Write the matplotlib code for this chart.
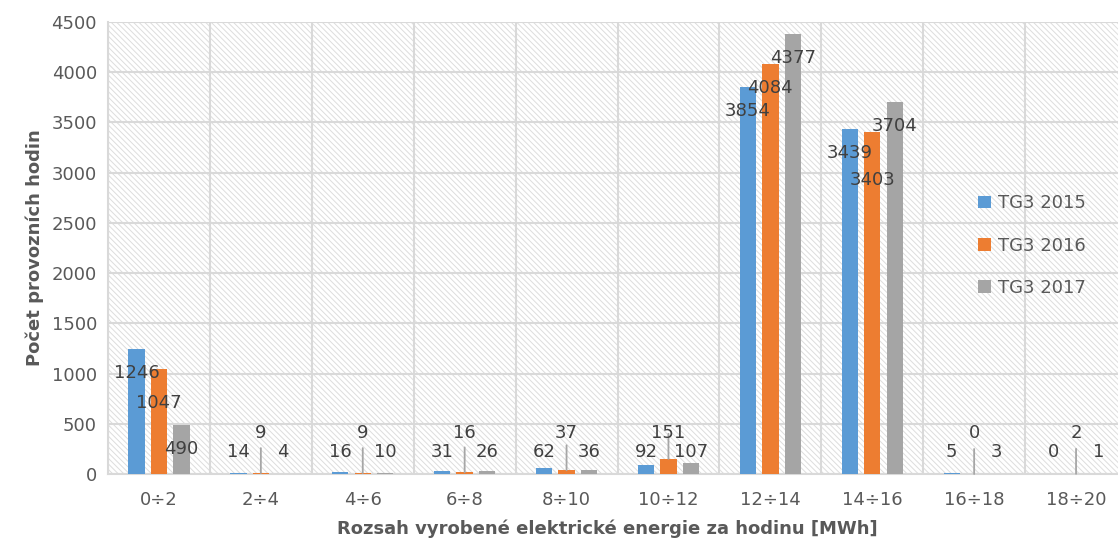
import numpy as np
import matplotlib.pyplot as plt
from matplotlib.patches import Rectangle

# Operating hours of TG3 by hourly energy output range
categories = ['0÷2', '2÷4', '4÷6', '6÷8', '8÷10', '10÷12', '12÷14', '14÷16', '16÷18', '18÷20']
tg3_2015 = [1246, 14, 16, 31, 62, 92, 3854, 3439, 5, 0]
tg3_2016 = [1047, 9, 9, 16, 37, 151, 4084, 3403, 0, 2]
tg3_2017 = [490, 4, 10, 26, 36, 107, 4377, 3704, 3, 1]
series_names = ['TG3 2015', 'TG3 2016', 'TG3 2017']

colors = ['#5B9BD5', '#ED7D31', '#A5A5A5']
text_color = '#595959'
label_color = '#404040'
grid_color = '#D9D9D9'

plt.rcParams['font.family'] = ['DejaVu Sans']
plt.rcParams['hatch.linewidth'] = 0.7

fig = plt.figure(figsize=(11.18, 5.38), dpi=100)
ax = fig.add_axes([108 / 1118, 1 - 474 / 538, 1019 / 1118, 452 / 538])

x = np.arange(len(categories))
width = 0.16
shift = 0.22
series = [tg3_2015, tg3_2016, tg3_2017]

# hatched background like the Excel plot area pattern
ax.add_patch(Rectangle((0, 0), 1, 1, transform=ax.transAxes, facecolor='white',
                       edgecolor='#DDDDDD', hatch='\\' * 6, linewidth=0, zorder=0))

for i, (vals, c, name) in enumerate(zip(series, colors, series_names)):
    ax.bar(x + (i - 1) * shift, vals, width, color=c, label=name, zorder=3)

# data labels: inside the top of tall bars, above the baseline for short ones
extra_drop = {(0, 1): 10, (7, 1): 24}
for i, vals in enumerate(series):
    for j, v in enumerate(vals):
        xc = x[j] + (i - 1) * shift
        if v > 300:
            dy = -24 - extra_drop.get((j, i), 0)
            ax.annotate(str(v), (xc, v), xytext=(0, dy), textcoords='offset pixels',
                        ha='center', va='center', fontsize=13, color=label_color, zorder=5)
        elif i == 1:
            # middle label lifted higher, with a leader line down to the bar
            ax.annotate(str(v), (xc, 0), xytext=(0, 41), textcoords='offset pixels',
                        ha='center', va='center', fontsize=13, color=label_color, zorder=5)
            ax.annotate('', (xc, v), xytext=(0, 25), textcoords='offset pixels',
                        arrowprops=dict(arrowstyle='-', color='#A6A6A6', lw=1.3,
                                        shrinkA=0, shrinkB=0), zorder=4)
        else:
            ax.annotate(str(v), (xc, 0), xytext=(0, 22), textcoords='offset pixels',
                        ha='center', va='center', fontsize=13, color=label_color, zorder=5)

ax.set_xlim(-0.5, len(categories) - 0.5)
ax.set_ylim(0, 4500)
ax.set_yticks(np.arange(0, 4501, 500))
ax.set_xticks(x)
ax.set_xticklabels(categories)
ax.set_xticks(np.arange(-0.5, len(categories), 1), minor=True)

ax.grid(axis='y', which='major', color=grid_color, linewidth=1.5, zorder=1)
ax.grid(axis='x', which='minor', color=grid_color, linewidth=1.5, zorder=1)
ax.tick_params(axis='both', which='both', length=0, labelsize=13, colors=text_color)
ax.tick_params(axis='x', pad=12)
ax.tick_params(axis='y', pad=8)
for side in ['top', 'right']:
    ax.spines[side].set_visible(False)
for side in ['left', 'bottom']:
    ax.spines[side].set_color(grid_color)
    ax.spines[side].set_linewidth(1.5)

ax.set_xlabel('Rozsah vyrobené elektrické energie za hodinu [MWh]', fontsize=13,
              fontweight='bold', color=text_color)
ax.xaxis.label.set_va('center')
ax.xaxis.set_label_coords(0.49, -(529 - 474) / 452)
ax.set_ylabel('Počet provozních hodin', fontsize=13, fontweight='bold',
              color=text_color, labelpad=5)

fig.legend(loc='upper left', bbox_to_anchor=(962 / 1118, 1 - 178 / 538), frameon=False,
           fontsize=13, labelcolor=text_color, handlelength=0.7, handleheight=0.7,
           handletextpad=0.4, labelspacing=1.35)

fig.savefig('out.png', dpi=100)
